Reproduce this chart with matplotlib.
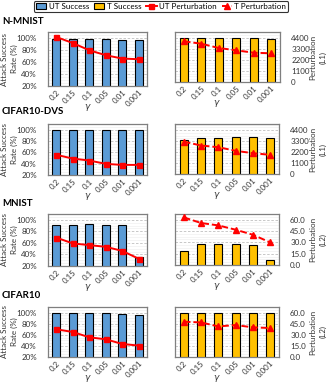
import matplotlib
matplotlib.use('Agg')
import matplotlib.pyplot as plt
from matplotlib.lines import Line2D
from matplotlib.patches import Patch
from matplotlib.ticker import FixedLocator, MultipleLocator

gammas = ['0.2', '0.15', '0.1', '0.05', '0.01', '0.001']
datasets = ['N-MNIST', 'CIFAR10-DVS', 'MNIST', 'CIFAR10']
norms = ['L1', 'L1', 'L2', 'L2']

# success rates (%)
nmnist_ut_success = [99, 99, 99, 99, 97, 96]
nmnist_t_success = [100, 100, 100, 100, 100, 98]
cifar10dvs_ut_success = [100, 100, 100, 100, 100, 99]
cifar10dvs_t_success = [82, 84, 85, 87, 87, 84]
mnist_ut_success = [91, 91, 92, 91, 91, 35]
mnist_t_success = [45, 57, 57, 57, 56, 28]
cifar10_ut_success = [100, 100, 100, 100, 98, 95]
cifar10_t_success = [100, 100, 100, 100, 100, 99]

# perturbation magnitudes
nmnist_ut_pert = [4540, 3980, 3310, 2850, 2540, 2480]
nmnist_t_pert = [4070, 3830, 3400, 3170, 2930, 2870]
cifar10dvs_ut_pert = [1980, 1610, 1420, 1090, 990, 990]
cifar10dvs_t_pert = [3240, 2850, 2680, 2320, 2080, 1920]
mnist_ut_pert = [36.9, 29.3, 27.1, 24.9, 19.6, 9.4]
mnist_t_pert = [63.1, 55.6, 52.4, 46.7, 40.0, 29.8]
cifar10_ut_pert = [37.4, 33.8, 26.6, 23.9, 17.6, 15.4]
cifar10_t_pert = [47.6, 46.7, 41.3, 43.1, 40.0, 39.1]

ut_success = [nmnist_ut_success, cifar10dvs_ut_success, mnist_ut_success, cifar10_ut_success]
t_success = [nmnist_t_success, cifar10dvs_t_success, mnist_t_success, cifar10_t_success]
ut_pert = [nmnist_ut_pert, cifar10dvs_ut_pert, mnist_ut_pert, cifar10_ut_pert]
t_pert = [nmnist_t_pert, cifar10dvs_t_pert, mnist_t_pert, cifar10_t_pert]

pct_ticks = [20, 40, 60, 80, 100]
l1_ticks = [0, 1100, 2200, 3300, 4400]
l2_ticks = [0, 15, 30, 45, 60]

W, H = 327, 387
plt.rcParams['font.family'] = ['Lato', 'DejaVu Sans']
plt.rcParams['mathtext.fontset'] = 'dejavusans'
fig = plt.figure(figsize=(W / 100, H / 100), dpi=100)

BLUE = '#5B9BD5'
YELLOW = '#FFC000'
RED = '#FF0000'
FRAME = '#7F7F7F'
FS = 5.8
TXT = '#333333'

def rect(x0, y0, x1, y1):
    return [x0 / W, 1 - y1 / H, (x1 - x0) / W, (y1 - y0) / H]

left_boxes = [(48, 32, 147, 86), (48, 124, 147, 175), (48, 214, 147, 266), (48, 307, 147, 357)]
right_boxes = [(175, 32, 280, 82), (175, 124, 279, 174), (175, 214, 279, 265), (175, 307, 279, 357)]
title_y = [21, 111, 203, 295]

x = list(range(len(gammas)))

def style_axes(ax):
    for s in ax.spines.values():
        s.set_color(FRAME)
        s.set_linewidth(0.9)
    ax.set_xlim(-0.5, len(gammas) - 0.5)
    ax.set_xticks(x)
    ax.set_xticklabels(gammas, rotation=45, ha='right', va='top', rotation_mode='anchor',
                       fontsize=FS, color=TXT)
    ax.tick_params(axis='x', length=0, pad=2)

for i in range(4):
    is_l1 = norms[i] == 'L1'
    plim = (0, 5000) if is_l1 else (0, 67.5)
    pticks = l1_ticks if is_l1 else l2_ticks
    plabels = [f'{t}' for t in pticks] if is_l1 else [f'{t:.1f}' for t in pticks]
    lx0, ly0, lx1, ly1 = left_boxes[i]
    rx0, ry0, rx1, ry1 = right_boxes[i]

    # left panel
    ax = fig.add_axes(rect(*left_boxes[i]))
    ax.set_facecolor('white')
    ax.set_ylim(20, 110)
    ax.yaxis.set_major_locator(FixedLocator(pct_ticks))
    ax.set_yticklabels([f'{t}%' for t in pct_ticks], fontsize=FS, color=TXT)
    ax.yaxis.set_minor_locator(MultipleLocator(5))
    ax.grid(axis='y', which='major', color='#BFBFBF', linestyle=(0, (3, 2)), linewidth=0.6)
    ax.grid(axis='y', which='minor', color='#EDEDED', linestyle='-', linewidth=0.4)
    ax.tick_params(axis='y', which='both', length=0, pad=8)
    ax.set_axisbelow(True)
    ax.bar(x, ut_success[i], width=0.47, color=BLUE, edgecolor='black', linewidth=0.8, zorder=2)
    style_axes(ax)
    ax.set_ylabel('Attack Success\nRate (%)', fontsize=FS, linespacing=1.5, color=TXT)
    ax.yaxis.set_label_coords((18 - lx0) / (lx1 - lx0), 0.5)
    ax.set_xlabel('$\\gamma$', fontsize=6.5, color=TXT)
    ax.xaxis.set_label_coords(0.40, -16 / (ly1 - ly0))
    ax2 = ax.twinx()
    ax2.set_ylim(*plim)
    ax2.set_yticks([])
    for s in ax2.spines.values():
        s.set_visible(False)
    ax2.plot(x, ut_pert[i], color=RED, linewidth=1.4, marker='s', markersize=3.6, zorder=3)
    fig.text(2 / W, 1 - title_y[i] / H, datasets[i], fontsize=7, fontweight='bold', va='center', ha='left')

    # right panel
    axr = fig.add_axes(rect(*right_boxes[i]))
    axr.set_ylim(20, 110)
    axr.set_yticks([])
    axr.bar(x, t_success[i], width=0.47, color=YELLOW, edgecolor='black', linewidth=0.8, zorder=2)
    style_axes(axr)
    axr.set_xlabel('$\\gamma$', fontsize=6.5, color=TXT)
    axr.xaxis.set_label_coords(0.40, -16 / (ry1 - ry0))
    axr2 = axr.twinx()
    axr2.set_ylim(*plim)
    axr2.yaxis.set_major_locator(FixedLocator(pticks))
    axr2.set_yticklabels(plabels, fontsize=FS, color=TXT)
    step = pticks[1] / 4
    axr2.tick_params(axis='y', which='both', length=0, pad=8)
    for s in axr2.spines.values():
        s.set_visible(False)
    axr.set_zorder(1)
    axr2.set_zorder(2)
    axr2.patch.set_visible(False)
    for t in pticks[1:]:
        frac = (t - plim[0]) / (plim[1] - plim[0])
        axr.axhline(20 + frac * 90, color='#BFBFBF', linestyle=(0, (3, 2)), linewidth=0.6, zorder=1)
    k = 1
    while k * step < plim[1]:
        frac = k * step / (plim[1] - plim[0])
        if (k % 4) != 0:
            axr.axhline(20 + frac * 90, color='#EDEDED', linestyle='-', linewidth=0.4, zorder=0.5)
        k += 1
    axr2.plot(x, t_pert[i], color=RED, linewidth=1.4, linestyle=(0, (3.5, 1.5)), marker='^', markersize=4, zorder=3)
    axr2.set_ylabel(f'Perturbation\n({norms[i]})', fontsize=FS, linespacing=1.5, color=TXT)
    axr2.yaxis.set_label_coords((309 - rx0) / (rx1 - rx0), 0.5)

handles = [
    Patch(facecolor=BLUE, edgecolor='black', linewidth=0.8),
    Patch(facecolor=YELLOW, edgecolor='black', linewidth=0.8),
    Line2D([], [], color=RED, linewidth=1.4, marker='s', markersize=3.6),
    Line2D([], [], color=RED, linewidth=1.4, linestyle=(0, (3.5, 1.5)), marker='^', markersize=4),
]
labels = ['UT Success', 'T Success', 'UT Perturbation', 'T Perturbation']
leg = fig.legend(handles, labels, loc='upper center', bbox_to_anchor=(161 / W, 1 - 1 / H), ncol=4,
                 fontsize=5.8, frameon=True, fancybox=True, edgecolor='black',
                 handlelength=1.3, handleheight=0.8, handletextpad=0.3, columnspacing=0.6,
                 borderpad=0.25, borderaxespad=0)
leg.get_frame().set_linewidth(0.8)

fig.savefig('out.png', dpi=100)
